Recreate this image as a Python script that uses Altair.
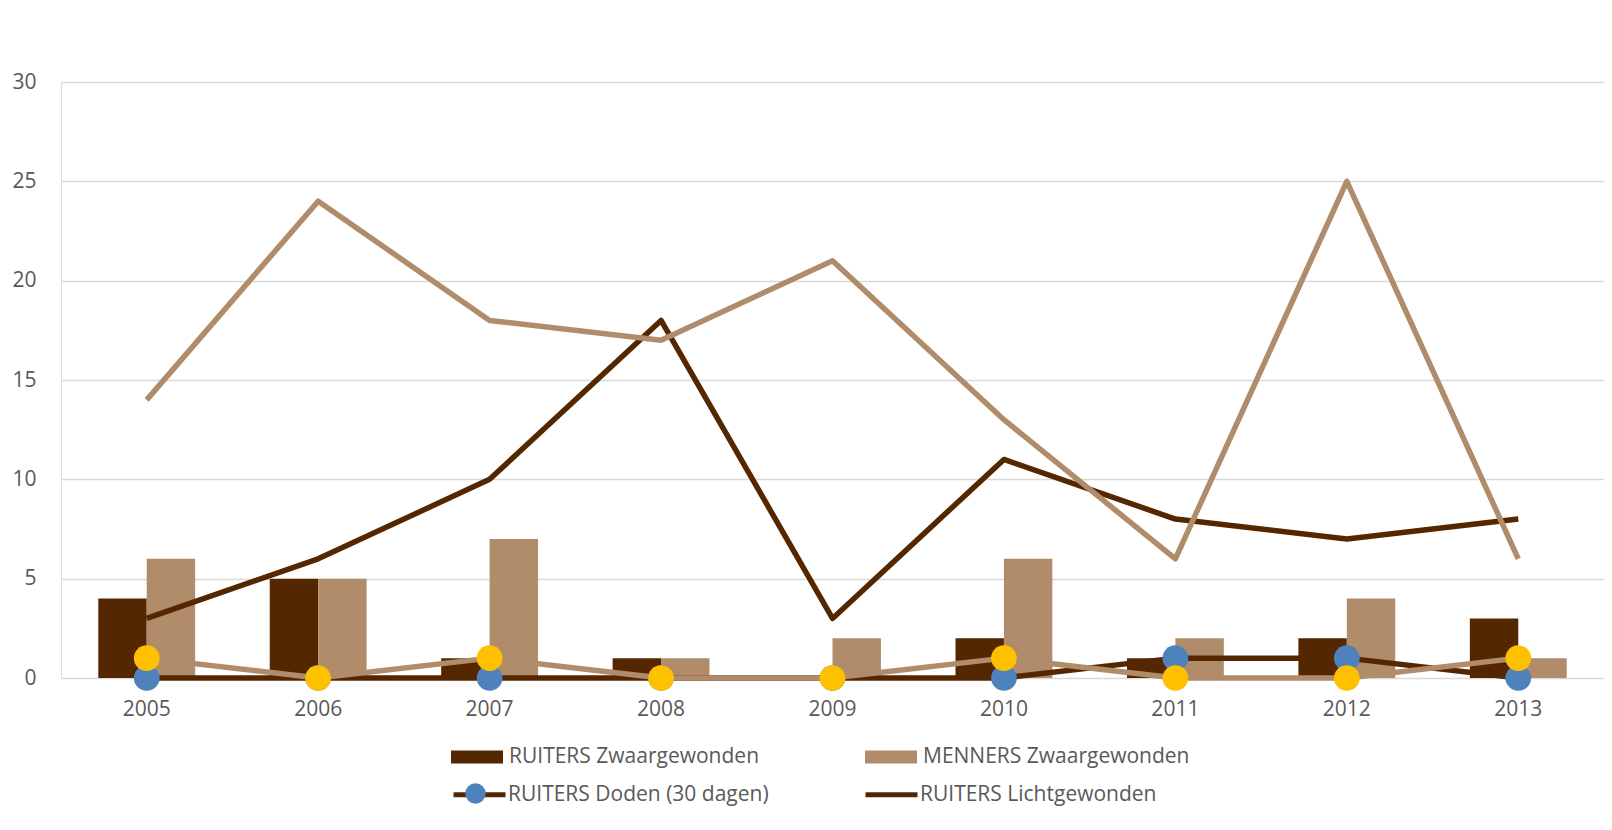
import altair as alt
import pandas as pd

years = ["2005", "2006", "2007", "2008", "2009", "2010", "2011", "2012", "2013"]
ruiters_zwaar = [4, 5, 1, 1, 0, 2, 1, 2, 3]
menners_zwaar = [6, 5, 7, 1, 2, 6, 2, 4, 1]
ruiters_licht = [3, 6, 10, 18, 3, 11, 8, 7, 8]
menners_licht = [14, 24, 18, 17, 21, 13, 6, 25, 6]
ruiters_doden = [0, 0, 0, 0, 0, 0, 1, 1, 0]
menners_doden = [1, 0, 1, 0, 0, 1, 0, 0, 1]

S_RZ = "RUITERS Zwaargewonden"
S_MZ = "MENNERS Zwaargewonden"
S_RD = "RUITERS Doden (30 dagen)"
S_RL = "RUITERS Lichtgewonden"
S_ML = "MENNERS Lichtgewonden"
S_MD = "MENNERS Doden (30 dagen)"

DARK = "#552700"
TAN = "#B08C6B"
BLUE = "#4F81BD"
YELLOW = "#FFC000"
TXT = "#595959"
FONT = "Open Sans"
FS = 21


def long(series, vals, key="series"):
    return pd.DataFrame({"year": years, key: series, "value": vals})


bars_df = pd.concat([long(S_RZ, ruiters_zwaar), long(S_MZ, menners_zwaar)])

x_scale = alt.Scale(domain=years, paddingInner=0.435, paddingOuter=0.2175)
y_scale = alt.Scale(domain=[0, 30], nice=False)

x_enc = alt.X("year:N", scale=x_scale, title=None,
              axis=alt.Axis(labelAngle=0, ticks=False, tickSize=0, domain=False,
                            labelPadding=20, labelFontSize=FS, labelColor=TXT,
                            labelFont=FONT, grid=False))
x_line = alt.X("year:N", scale=x_scale, title=None, bandPosition=0.5)
y_enc = alt.Y("value:Q", scale=y_scale, title=None,
              axis=alt.Axis(values=[0, 5, 10, 15, 20, 25, 30], ticks=False, tickSize=0,
                            domain=False, labelPadding=25, labelFontSize=FS,
                            labelColor=TXT, labelFont=FONT, gridColor="#D9D9D9",
                            gridWidth=1.5))

bars = alt.Chart(bars_df).mark_bar().encode(
    x=x_enc,
    xOffset=alt.XOffset("series:N", scale=alt.Scale(domain=[S_RZ, S_MZ], paddingInner=0, paddingOuter=0)),
    y=y_enc,
    fill=alt.Fill("series:N", scale=alt.Scale(domain=[S_RZ, S_MZ], range=[DARK, TAN]),
                  legend=alt.Legend(orient="none", legendX=390, legendY=649,
                                    direction="horizontal", columns=2, columnPadding=105,
                                    symbolType="M-1,-0.25H1V0.25H-1Z", symbolSize=2704,
                                    symbolStrokeWidth=0, labelOffset=6, labelFontSize=FS,
                                    labelColor=TXT, labelFont=FONT, title=None,
                                    labelLimit=500, padding=0)),
)

stroke_scale = alt.Scale(domain=[S_RD, S_RL, S_ML, S_MD], range=[DARK, DARK, TAN, TAN])
stroke_legend = alt.Legend(orient="none", legendX=390, legendY=684, values=[S_RD, S_RL],
                           direction="horizontal", columns=2, columnPadding=86,
                           symbolType="M-1,0H1", symbolSize=2704, symbolStrokeWidth=5,
                           labelOffset=0, labelFontSize=FS, labelColor=TXT, labelFont=FONT,
                           title=None, labelLimit=500, padding=0)


def line_layer(series, vals):
    return alt.Chart(long(series, vals)).mark_line(strokeWidth=5.5, strokeJoin="round").encode(
        x=x_line, y=alt.Y("value:Q", scale=y_scale),
        stroke=alt.Stroke("series:N", scale=stroke_scale, legend=stroke_legend),
    )


shape_scale = alt.Scale(domain=[S_RD, S_MD], range=["circle", "circle"])
shape_legend = alt.Legend(orient="none", legendX=404, legendY=701, values=[S_RD],
                          symbolType="circle", symbolSize=415, symbolFillColor=BLUE,
                          symbolStrokeWidth=0, labelExpr="''", title=None, padding=0,
                          zindex=1)


def point_layer(series, vals, color):
    return alt.Chart(long(series, vals, "dseries")).mark_point(
        filled=True, opacity=1, size=660, strokeWidth=0, fill=color).encode(
        x=x_line, y=alt.Y("value:Q", scale=y_scale),
        shape=alt.Shape("dseries:N", scale=shape_scale, legend=shape_legend),
    )


chart = alt.layer(
    bars,
    line_layer(S_RD, ruiters_doden),
    point_layer(S_RD, ruiters_doden, BLUE),
    line_layer(S_RL, ruiters_licht),
    line_layer(S_ML, menners_licht),
    line_layer(S_MD, menners_doden),
    point_layer(S_MD, menners_doden, YELLOW),
).properties(
    width=1543, height=596,
    autosize=alt.AutoSizeParams(type="none"),
    padding={"left": 53, "top": 74, "right": 0, "bottom": 140},
).configure_view(stroke=None).configure(background="white")

chart.save("out.html", embed_options={"renderer": "svg", "actions": False})
